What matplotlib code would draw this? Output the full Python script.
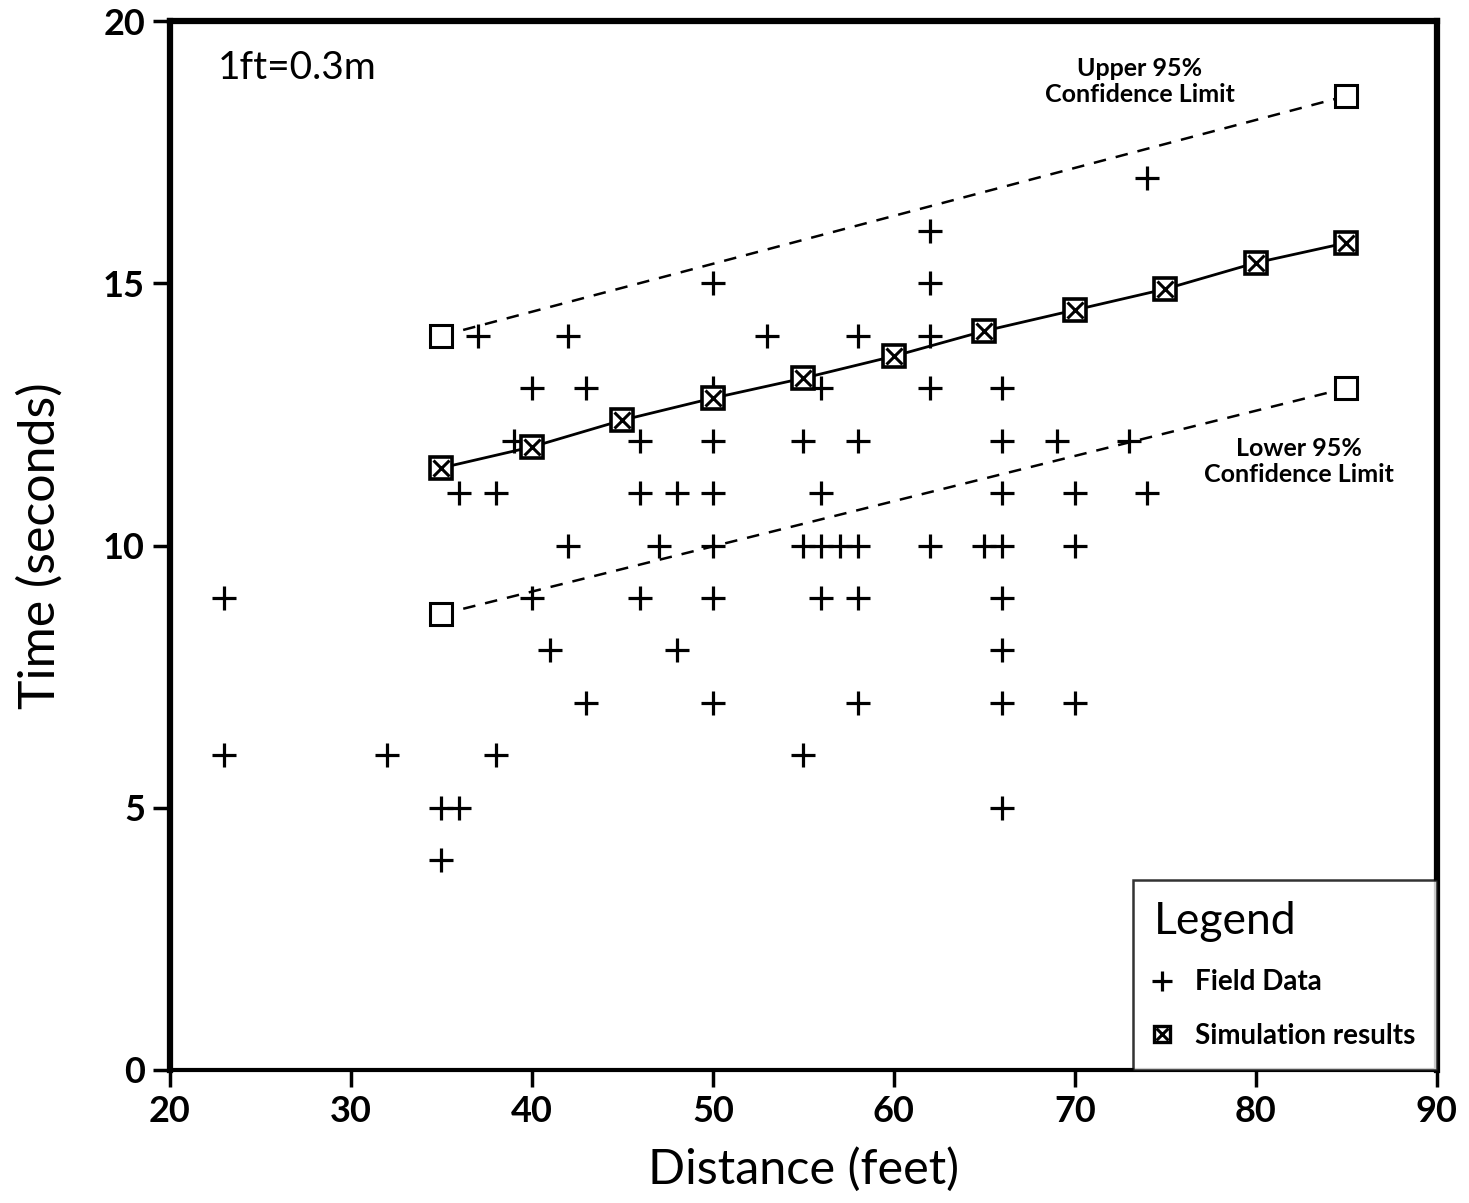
import matplotlib
matplotlib.use("Agg")
import matplotlib.pyplot as plt
from matplotlib.lines import Line2D

# Field data (distance ft, time s)
field_x = [23, 23, 32, 35, 36, 35, 37, 36, 38, 38, 39, 40, 40, 41, 42, 42, 43, 43,
           46, 46, 46, 48, 47, 48, 50, 50, 50, 50, 50, 50, 50, 53, 55, 55, 55,
           56, 56, 56, 57, 58, 56, 58, 58, 58, 58, 62, 62, 62, 62, 62, 65, 66,
           66, 66, 66, 66, 66, 66, 66, 69, 70, 70, 70, 73, 74, 74]
field_y = [9, 6, 6, 5, 5, 4, 14, 11, 11, 6, 12, 13, 9, 8, 14, 10, 13, 7,
           12, 11, 9, 11, 10, 8, 15, 13, 12, 11, 10, 9, 7, 14, 12, 10, 6,
           13, 11, 10, 10, 10, 9, 9, 14, 12, 7, 16, 15, 14, 13, 10, 10, 10,
           13, 12, 11, 9, 8, 7, 5, 12, 11, 10, 7, 12, 17, 11]

# Simulation results
sim_x = [35, 40, 45, 50, 55, 60, 65, 70, 75, 80, 85]
sim_y = [11.48, 11.88, 12.39, 12.81, 13.19, 13.61, 14.09, 14.49, 14.89, 15.39, 15.77]

# Confidence limits
ci_x = [35, 85]
upper_y = [14.0, 18.57]
lower_y = [8.69, 13.0]

fig = plt.figure(figsize=(14.69, 12.03), dpi=100)
ax = fig.add_axes([0.1157, 0.1106, 0.8623, 0.8719])
FONT = ['Lato', 'DejaVu Sans']

ax.plot(field_x, field_y, linestyle='none', marker='+', markersize=17,
        markeredgewidth=2.3, color='black', zorder=3)

ax.plot(ci_x, upper_y, linestyle=(0, (5, 4)), color='black', lw=1.8,
        marker='s', markersize=16, markerfacecolor='white',
        markeredgecolor='black', markeredgewidth=2.2, zorder=4)
ax.plot(ci_x, lower_y, linestyle=(0, (5, 4)), color='black', lw=1.8,
        marker='s', markersize=16, markerfacecolor='white',
        markeredgecolor='black', markeredgewidth=2.2, zorder=4)

ax.plot(sim_x, sim_y, color='black', lw=2.0, marker='s', markersize=16,
        markerfacecolor='white', markeredgecolor='black',
        markeredgewidth=2.6, zorder=5)
ax.plot(sim_x, sim_y, linestyle='none', marker='x', markersize=11,
        markeredgewidth=2.2, color='black', zorder=6)

ax.set_xlim(20, 90)
ax.set_ylim(0, 20)
ax.set_xticks(range(20, 91, 10))
ax.set_yticks(range(0, 21, 5))
ax.tick_params(direction='out', length=12, width=2.5, labelsize=26, pad=6)
for lab in ax.get_xticklabels() + ax.get_yticklabels():
    lab.set_family(FONT)
    lab.set_fontweight('bold')
for side in ['left', 'top', 'right']:
    ax.spines[side].set_linewidth(4.5)
ax.spines['bottom'].set_linewidth(3)

ax.set_xlabel('Distance (feet)', fontsize=35, family=FONT, labelpad=14)
ax.set_ylabel('Time (seconds)', fontsize=36, family=FONT, labelpad=28)

ax.text(0.038, 0.955, '1ft=0.3m', transform=ax.transAxes, fontsize=28,
        family=FONT, va='center', ha='left')
ax.text(73.6, 18.84, 'Upper 95%\nConfidence Limit', fontsize=18,
        fontweight='bold', family=FONT, ha='center', va='center', linespacing=1.15)
ax.text(82.4, 11.6, 'Lower 95%\nConfidence Limit', fontsize=18,
        fontweight='bold', family=FONT, ha='center', va='center', linespacing=1.15)

h_field = Line2D([], [], linestyle='none', marker='+', markersize=15,
                 markeredgewidth=2.3, color='black')
h_sq = Line2D([], [], linestyle='none', marker='s', markersize=11,
              markerfacecolor='white', markeredgecolor='black', markeredgewidth=2.4)
h_x = Line2D([], [], linestyle='none', marker='x', markersize=8,
             markeredgewidth=2.2, color='black')
leg = ax.legend([h_field, (h_sq, h_x)], ['Field Data', 'Simulation results'],
                loc='lower right', title='Legend', frameon=True, fancybox=False,
                edgecolor='black', borderaxespad=0.0, handlelength=0.6,
                handletextpad=0.9, borderpad=0.75, labelspacing=1.0,
                prop={'family': FONT, 'weight': 'bold', 'size': 20},
                title_fontproperties={'family': FONT, 'size': 32})
leg._legend_box.align = 'left'
leg.get_frame().set_linewidth(1.8)

fig.savefig('out.png', dpi=100)
